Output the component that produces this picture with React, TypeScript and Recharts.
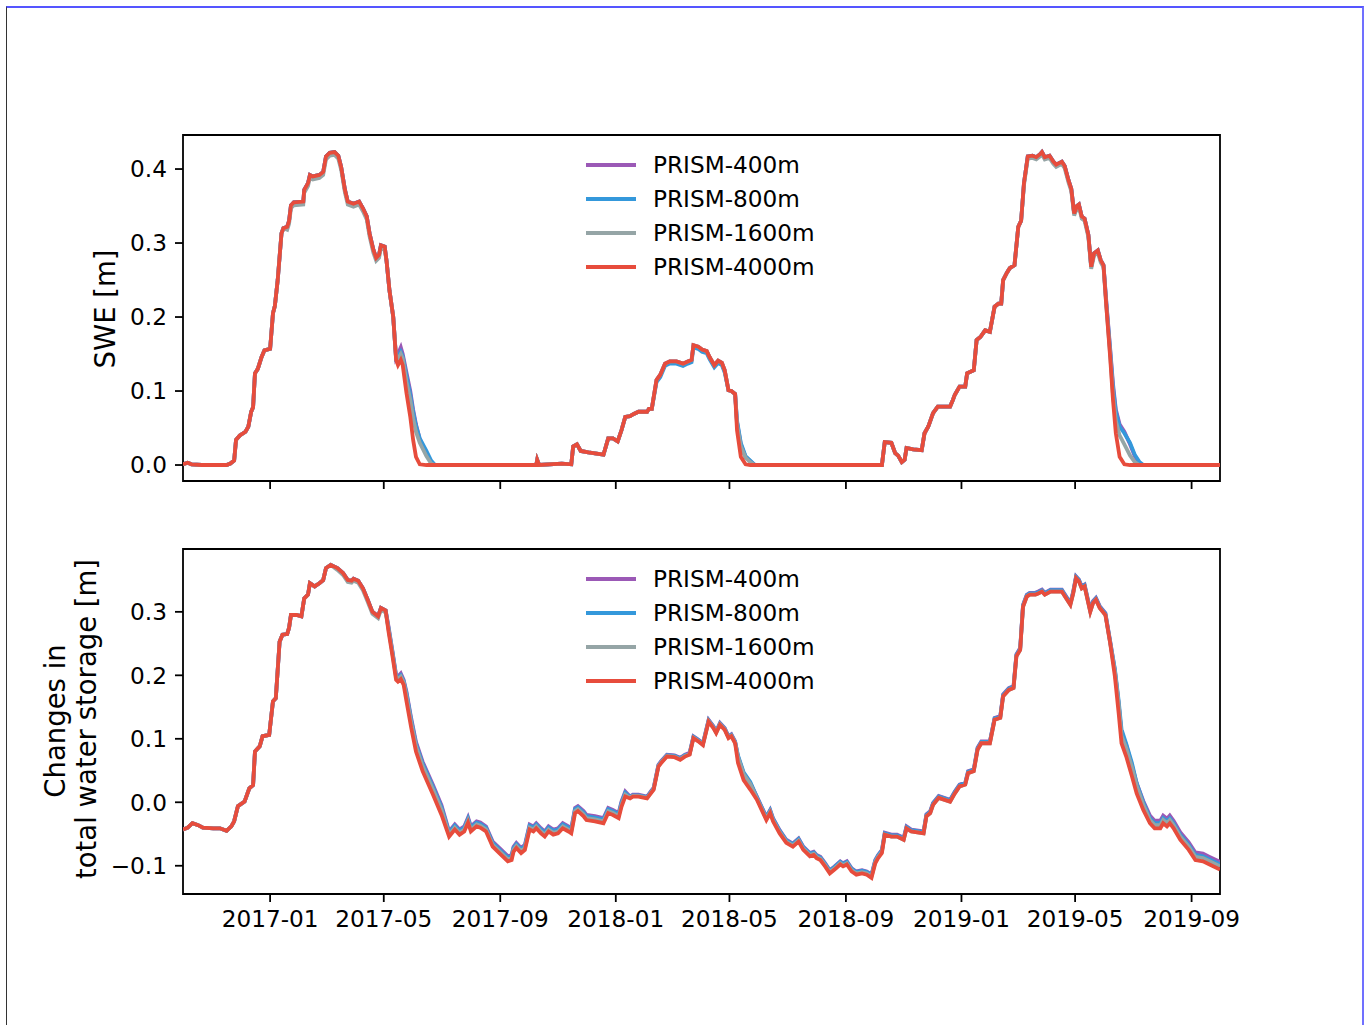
import { LineChart, Line, XAxis, YAxis, ReferenceArea, Label } from "recharts";

// x positions are days since 2016-10-01 (water years 2017-2019)
const tickDays = [92, 212, 335, 457, 577, 700, 822, 942, 1065];
const tickLabels = ["2017-01", "2017-05", "2017-09", "2018-01", "2018-05", "2018-09", "2019-01", "2019-05", "2019-09"];

const seriesNames = ["PRISM-400m", "PRISM-800m", "PRISM-1600m", "PRISM-4000m"];
const seriesKeys = ["p400", "p800", "p1600", "p4000"];
const seriesColors = ["#9b59b6", "#3498db", "#95a5a6", "#e74c3c"];

const sweTicks = [0, 0.1, 0.2, 0.3, 0.4];
const storageTicks = [-0.1, 0, 0.1, 0.2, 0.3];

// SWE [m]
const sweDays = [
  0, 5, 9, 20, 46, 50, 54, 56, 60, 66,
  69, 72, 74, 76, 79, 83, 86, 92, 95, 97,
  100, 104, 106, 110, 112, 114, 117, 127, 128, 132,
  134, 137, 144, 148, 151, 155, 160, 164, 167, 171,
  174, 180, 186, 190, 194, 197, 201, 204, 207, 209,
  213, 215, 218, 222, 225, 227, 230, 232, 236, 240,
  243, 246, 250, 257, 262, 266,
  373, 374, 376, 400, 410, 412, 416, 420, 428, 444,
  449, 454, 459, 463, 467, 472, 476, 481, 490, 492,
  495, 500, 504, 509, 514, 521, 528, 533, 537, 539,
  544, 548, 553, 556, 561, 565, 569, 572, 576, 579,
  583, 585, 589, 594, 599, 604,
  738, 741, 748, 752, 755, 759, 762, 764, 771, 780,
  783, 787, 792, 797, 810, 813, 815, 820, 826, 828,
  835, 838, 842, 847, 852, 857, 861, 864, 866, 870,
  873, 878, 882, 885, 888, 890, 892, 897, 901, 905,
  907, 910, 915, 919, 922, 928, 931, 935, 938, 941,
  944, 946, 949, 952, 956, 959, 962, 966, 969, 972,
  975, 979, 982, 985, 989, 994, 1000, 1005, 1010, 1014,
  1095,
];

const swe400 = [
  0.001, 0.003, 0.001, 0, 0, 0.002, 0.006, 0.034, 0.040, 0.045,
  0.052, 0.072, 0.078, 0.124, 0.130, 0.146, 0.155, 0.157, 0.205, 0.215,
  0.250, 0.313, 0.320, 0.322, 0.330, 0.351, 0.355, 0.356, 0.372, 0.381,
  0.392, 0.390, 0.392, 0.396, 0.417, 0.422, 0.423, 0.418, 0.403, 0.372,
  0.356, 0.353, 0.356, 0.347, 0.336, 0.313, 0.291, 0.280, 0.284, 0.297,
  0.295, 0.275, 0.236, 0.200, 0.145, 0.150, 0.159, 0.150, 0.125, 0.100,
  0.075, 0.055, 0.035, 0.016, 0.004, 0,
  0, 0.007, 0, 0.002, 0.001, 0.025, 0.028, 0.019, 0.017, 0.014,
  0.036, 0.036, 0.032, 0.047, 0.065, 0.066, 0.069, 0.072, 0.072, 0.076,
  0.076, 0.115, 0.122, 0.137, 0.140, 0.140, 0.137, 0.140, 0.142, 0.162,
  0.160, 0.156, 0.154, 0.146, 0.135, 0.141, 0.138, 0.128, 0.101, 0.100,
  0.096, 0.058, 0.028, 0.011, 0.005, 0,
  0, 0.031, 0.030, 0.016, 0.013, 0.004, 0.007, 0.023, 0.021, 0.020,
  0.043, 0.052, 0.070, 0.079, 0.079, 0.088, 0.095, 0.106, 0.106, 0.124,
  0.128, 0.169, 0.173, 0.182, 0.180, 0.214, 0.218, 0.218, 0.250, 0.260,
  0.266, 0.270, 0.322, 0.330, 0.381, 0.399, 0.417, 0.418, 0.416, 0.420,
  0.423, 0.416, 0.418, 0.410, 0.406, 0.410, 0.404, 0.385, 0.373, 0.340,
  0.350, 0.352, 0.336, 0.333, 0.311, 0.268, 0.286, 0.290, 0.277, 0.270,
  0.220, 0.158, 0.110, 0.075, 0.055, 0.045, 0.028, 0.012, 0.002, 0,
  0,
];

const swe800 = [
  0.001, 0.003, 0.001, 0, 0, 0.002, 0.006, 0.034, 0.040, 0.045,
  0.052, 0.072, 0.078, 0.124, 0.130, 0.146, 0.155, 0.157, 0.205, 0.215,
  0.250, 0.313, 0.320, 0.322, 0.330, 0.351, 0.355, 0.356, 0.372, 0.381,
  0.392, 0.390, 0.392, 0.396, 0.417, 0.422, 0.423, 0.418, 0.403, 0.372,
  0.356, 0.353, 0.356, 0.347, 0.336, 0.313, 0.291, 0.280, 0.284, 0.297,
  0.295, 0.275, 0.236, 0.200, 0.144, 0.146, 0.153, 0.147, 0.120, 0.095,
  0.072, 0.053, 0.036, 0.019, 0.006, 0,
  0, 0.007, 0, 0.002, 0.001, 0.025, 0.028, 0.019, 0.017, 0.014,
  0.036, 0.036, 0.032, 0.047, 0.065, 0.066, 0.069, 0.072, 0.072, 0.076,
  0.076, 0.112, 0.119, 0.134, 0.137, 0.137, 0.134, 0.137, 0.139, 0.159,
  0.157, 0.153, 0.151, 0.143, 0.132, 0.138, 0.135, 0.125, 0.101, 0.100,
  0.096, 0.060, 0.030, 0.012, 0.006, 0,
  0, 0.031, 0.030, 0.016, 0.013, 0.004, 0.007, 0.023, 0.021, 0.020,
  0.043, 0.052, 0.070, 0.079, 0.079, 0.088, 0.095, 0.106, 0.106, 0.124,
  0.128, 0.169, 0.173, 0.182, 0.180, 0.214, 0.218, 0.218, 0.250, 0.260,
  0.266, 0.270, 0.322, 0.330, 0.381, 0.399, 0.417, 0.418, 0.416, 0.420,
  0.423, 0.416, 0.418, 0.410, 0.406, 0.410, 0.404, 0.385, 0.373, 0.340,
  0.350, 0.352, 0.336, 0.333, 0.311, 0.268, 0.286, 0.290, 0.277, 0.270,
  0.218, 0.155, 0.105, 0.072, 0.052, 0.043, 0.030, 0.014, 0.004, 0,
  0,
];

const swe1600 = [
  0.001, 0.003, 0.001, 0, 0, 0.002, 0.006, 0.034, 0.040, 0.045,
  0.052, 0.072, 0.078, 0.124, 0.130, 0.146, 0.155, 0.157, 0.205, 0.215,
  0.250, 0.313, 0.320, 0.318, 0.326, 0.347, 0.351, 0.352, 0.368, 0.377,
  0.388, 0.386, 0.388, 0.392, 0.413, 0.418, 0.419, 0.414, 0.399, 0.368,
  0.352, 0.349, 0.352, 0.343, 0.332, 0.309, 0.287, 0.276, 0.280, 0.293,
  0.291, 0.275, 0.236, 0.200, 0.143, 0.143, 0.150, 0.144, 0.112, 0.088,
  0.063, 0.045, 0.030, 0.012, 0.002, 0,
  0, 0.007, 0, 0.002, 0.001, 0.025, 0.028, 0.019, 0.017, 0.014,
  0.036, 0.036, 0.032, 0.047, 0.065, 0.066, 0.069, 0.072, 0.072, 0.076,
  0.076, 0.115, 0.122, 0.137, 0.140, 0.140, 0.137, 0.140, 0.142, 0.162,
  0.160, 0.156, 0.154, 0.146, 0.135, 0.141, 0.138, 0.128, 0.101, 0.100,
  0.096, 0.055, 0.025, 0.010, 0.004, 0,
  0, 0.031, 0.030, 0.016, 0.013, 0.004, 0.007, 0.023, 0.021, 0.020,
  0.043, 0.052, 0.070, 0.079, 0.079, 0.088, 0.095, 0.106, 0.106, 0.124,
  0.128, 0.169, 0.173, 0.182, 0.180, 0.214, 0.218, 0.218, 0.250, 0.260,
  0.266, 0.270, 0.322, 0.330, 0.378, 0.396, 0.414, 0.415, 0.413, 0.417,
  0.420, 0.413, 0.415, 0.407, 0.403, 0.407, 0.401, 0.382, 0.370, 0.337,
  0.347, 0.349, 0.333, 0.330, 0.308, 0.265, 0.283, 0.287, 0.274, 0.267,
  0.214, 0.150, 0.095, 0.060, 0.040, 0.028, 0.013, 0.004, 0, 0,
  0,
];

const swe4000 = [
  0.001, 0.003, 0.001, 0, 0, 0.002, 0.006, 0.034, 0.040, 0.045,
  0.052, 0.072, 0.078, 0.124, 0.130, 0.146, 0.155, 0.157, 0.205, 0.215,
  0.250, 0.313, 0.320, 0.322, 0.330, 0.351, 0.355, 0.356, 0.372, 0.381,
  0.392, 0.390, 0.392, 0.396, 0.417, 0.422, 0.423, 0.418, 0.403, 0.372,
  0.356, 0.353, 0.356, 0.347, 0.336, 0.313, 0.291, 0.280, 0.284, 0.297,
  0.295, 0.275, 0.236, 0.200, 0.142, 0.135, 0.142, 0.135, 0.097, 0.065,
  0.034, 0.011, 0.001, 0, 0, 0,
  0, 0.007, 0, 0.002, 0.001, 0.025, 0.028, 0.019, 0.017, 0.014,
  0.036, 0.036, 0.032, 0.047, 0.065, 0.066, 0.069, 0.072, 0.072, 0.076,
  0.076, 0.115, 0.122, 0.137, 0.140, 0.140, 0.137, 0.140, 0.142, 0.162,
  0.160, 0.156, 0.154, 0.146, 0.135, 0.141, 0.138, 0.128, 0.101, 0.100,
  0.096, 0.047, 0.011, 0.001, 0, 0,
  0, 0.031, 0.030, 0.016, 0.013, 0.004, 0.007, 0.023, 0.021, 0.020,
  0.043, 0.052, 0.070, 0.079, 0.079, 0.088, 0.095, 0.106, 0.106, 0.124,
  0.128, 0.169, 0.173, 0.182, 0.180, 0.214, 0.218, 0.218, 0.250, 0.260,
  0.266, 0.270, 0.322, 0.330, 0.381, 0.399, 0.417, 0.418, 0.416, 0.420,
  0.423, 0.416, 0.418, 0.410, 0.406, 0.410, 0.404, 0.385, 0.373, 0.340,
  0.350, 0.352, 0.336, 0.333, 0.311, 0.268, 0.286, 0.290, 0.277, 0.270,
  0.214, 0.146, 0.088, 0.043, 0.011, 0.001, 0, 0, 0, 0,
  0,
];

// changes in total water storage [m]
const storDays = [
  0, 5, 10, 16, 21, 32, 39, 46, 51, 54,
  58, 65, 70, 74, 76, 81, 84, 91, 95, 98,
  102, 105, 110, 112, 114, 120, 125, 128, 132, 134,
  139, 144, 148, 151, 156, 163, 169, 174, 178, 180,
  185, 190, 195, 200, 206, 209, 214, 217, 221, 225,
  227, 230, 233, 236, 241, 246, 253, 264, 273, 281,
  287, 292, 297, 301, 304, 310, 314, 320, 327, 334,
  343, 347, 349, 352, 357, 361, 366, 370, 373, 378,
  382, 386, 391, 396, 401, 407, 410, 414, 417, 423,
  426, 435, 444, 449, 454, 460, 463, 467, 472, 475,
  481, 490, 493, 497, 502, 505, 511, 519, 525, 530,
  535, 539, 544, 549, 555, 560, 563, 567, 572, 576,
  579, 583, 586, 592, 599, 606, 611, 616, 620, 623,
  630, 637, 644, 650, 655, 662, 666, 669, 673, 678,
  683, 688, 694, 697, 701, 706, 711, 717, 722, 727,
  731, 734, 738, 741, 748, 754, 761, 764, 769, 782,
  785, 789, 792, 798, 810, 815, 820, 826, 829, 835,
  839, 843, 852, 857, 863, 866, 872, 877, 880, 884,
  887, 891, 894, 900, 903, 907, 910, 916, 923, 928,
  931, 937, 940, 943, 946, 949, 952, 958, 961, 964,
  968, 974, 979, 984, 988, 991, 996, 1002, 1007, 1014,
  1021, 1026, 1032, 1035, 1039, 1042, 1046, 1053, 1062, 1069,
  1077, 1084, 1095,
];

const stor400 = [
  -0.043, -0.040, -0.033, -0.036, -0.040, -0.041, -0.041, -0.045, -0.038, -0.030,
  -0.006, 0.001, 0.022, 0.027, 0.080, 0.088, 0.104, 0.106, 0.159, 0.164,
  0.253, 0.264, 0.265, 0.275, 0.295, 0.295, 0.293, 0.321, 0.327, 0.345,
  0.340, 0.345, 0.350, 0.369, 0.374, 0.369, 0.361, 0.350, 0.349, 0.352,
  0.349, 0.337, 0.319, 0.300, 0.293, 0.306, 0.302, 0.277, 0.240, 0.201,
  0.198, 0.203, 0.193, 0.174, 0.132, 0.095, 0.064, 0.027, -0.005, -0.046,
  -0.035, -0.043, -0.038, -0.024, -0.038, -0.030, -0.032, -0.038, -0.062, -0.072,
  -0.085, -0.083, -0.070, -0.064, -0.072, -0.067, -0.035, -0.038, -0.033, -0.041,
  -0.046, -0.038, -0.043, -0.041, -0.033, -0.038, -0.041, -0.009, -0.006, -0.014,
  -0.020, -0.022, -0.025, -0.009, -0.012, -0.017, 0.001, 0.017, 0.009, 0.012,
  0.012, 0.009, 0.015, 0.023, 0.059, 0.065, 0.075, 0.074, 0.070, 0.075,
  0.078, 0.104, 0.099, 0.093, 0.130, 0.120, 0.112, 0.125, 0.117, 0.104,
  0.107, 0.096, 0.072, 0.045, 0.030, 0.009, -0.007, -0.023, -0.012, -0.025,
  -0.044, -0.059, -0.065, -0.057, -0.070, -0.080, -0.078, -0.083, -0.086, -0.096,
  -0.107, -0.101, -0.093, -0.096, -0.093, -0.104, -0.109, -0.107, -0.109, -0.114,
  -0.091, -0.083, -0.075, -0.048, -0.051, -0.051, -0.056, -0.038, -0.043, -0.046,
  -0.019, -0.014, -0.001, 0.010, 0.004, 0.017, 0.028, 0.031, 0.049, 0.052,
  0.086, 0.096, 0.096, 0.133, 0.136, 0.170, 0.180, 0.183, 0.233, 0.243,
  0.311, 0.327, 0.330, 0.330, 0.332, 0.335, 0.330, 0.335, 0.335, 0.335,
  0.328, 0.314, 0.332, 0.356, 0.351, 0.340, 0.343, 0.303, 0.317, 0.322,
  0.309, 0.298, 0.254, 0.208, 0.155, 0.108, 0.090, 0.058, 0.030, 0.002,
  -0.021, -0.029, -0.029, -0.021, -0.026, -0.021, -0.029, -0.047, -0.063, -0.079,
  -0.081, -0.086, -0.094,
];

const stor800 = [
  -0.043, -0.040, -0.033, -0.036, -0.040, -0.041, -0.041, -0.045, -0.038, -0.030,
  -0.006, 0.001, 0.022, 0.027, 0.080, 0.088, 0.104, 0.106, 0.159, 0.164,
  0.253, 0.264, 0.265, 0.275, 0.295, 0.295, 0.293, 0.321, 0.327, 0.345,
  0.340, 0.345, 0.350, 0.369, 0.374, 0.369, 0.361, 0.350, 0.349, 0.352,
  0.349, 0.337, 0.319, 0.300, 0.293, 0.306, 0.302, 0.275, 0.238, 0.199,
  0.196, 0.200, 0.191, 0.171, 0.129, 0.092, 0.061, 0.024, -0.008, -0.048,
  -0.037, -0.045, -0.040, -0.026, -0.040, -0.032, -0.034, -0.040, -0.064, -0.074,
  -0.087, -0.085, -0.072, -0.066, -0.074, -0.069, -0.037, -0.040, -0.035, -0.043,
  -0.048, -0.040, -0.045, -0.043, -0.035, -0.040, -0.043, -0.011, -0.008, -0.016,
  -0.022, -0.024, -0.027, -0.011, -0.014, -0.019, -0.001, 0.015, 0.008, 0.011,
  0.011, 0.008, 0.014, 0.022, 0.058, 0.064, 0.074, 0.073, 0.069, 0.074,
  0.077, 0.103, 0.098, 0.092, 0.129, 0.119, 0.111, 0.124, 0.116, 0.103,
  0.106, 0.095, 0.074, 0.047, 0.032, 0.008, -0.008, -0.024, -0.013, -0.026,
  -0.045, -0.060, -0.066, -0.058, -0.071, -0.081, -0.079, -0.084, -0.087, -0.097,
  -0.108, -0.102, -0.094, -0.097, -0.094, -0.105, -0.110, -0.108, -0.110, -0.115,
  -0.092, -0.084, -0.076, -0.049, -0.052, -0.052, -0.057, -0.039, -0.044, -0.047,
  -0.020, -0.015, -0.002, 0.009, 0.003, 0.016, 0.027, 0.030, 0.048, 0.051,
  0.085, 0.095, 0.095, 0.132, 0.135, 0.169, 0.179, 0.182, 0.232, 0.242,
  0.310, 0.326, 0.329, 0.329, 0.331, 0.334, 0.329, 0.334, 0.334, 0.334,
  0.327, 0.313, 0.331, 0.355, 0.350, 0.339, 0.342, 0.302, 0.316, 0.321,
  0.308, 0.297, 0.253, 0.210, 0.160, 0.115, 0.092, 0.062, 0.030, 0.000,
  -0.025, -0.033, -0.033, -0.025, -0.030, -0.025, -0.033, -0.051, -0.067, -0.083,
  -0.085, -0.090, -0.098,
];

const stor1600 = [
  -0.043, -0.040, -0.033, -0.036, -0.040, -0.041, -0.041, -0.045, -0.038, -0.030,
  -0.006, 0.001, 0.022, 0.027, 0.080, 0.088, 0.104, 0.106, 0.159, 0.164,
  0.253, 0.264, 0.265, 0.275, 0.295, 0.295, 0.293, 0.321, 0.327, 0.345,
  0.340, 0.345, 0.350, 0.369, 0.374, 0.366, 0.358, 0.347, 0.346, 0.349,
  0.346, 0.334, 0.316, 0.297, 0.290, 0.303, 0.299, 0.273, 0.236, 0.197,
  0.194, 0.198, 0.189, 0.167, 0.125, 0.088, 0.057, 0.020, -0.012, -0.051,
  -0.040, -0.048, -0.043, -0.029, -0.043, -0.035, -0.037, -0.043, -0.067, -0.077,
  -0.090, -0.088, -0.075, -0.069, -0.077, -0.072, -0.040, -0.043, -0.038, -0.046,
  -0.051, -0.043, -0.048, -0.046, -0.038, -0.043, -0.046, -0.014, -0.011, -0.019,
  -0.025, -0.027, -0.030, -0.014, -0.017, -0.022, -0.004, 0.012, 0.007, 0.010,
  0.010, 0.007, 0.013, 0.021, 0.057, 0.063, 0.073, 0.072, 0.068, 0.073,
  0.076, 0.102, 0.097, 0.091, 0.128, 0.118, 0.110, 0.123, 0.115, 0.102,
  0.105, 0.094, 0.071, 0.044, 0.029, 0.006, -0.010, -0.026, -0.015, -0.028,
  -0.047, -0.062, -0.068, -0.060, -0.073, -0.083, -0.081, -0.086, -0.089, -0.099,
  -0.110, -0.104, -0.096, -0.099, -0.096, -0.107, -0.112, -0.110, -0.112, -0.117,
  -0.094, -0.086, -0.078, -0.051, -0.054, -0.054, -0.059, -0.041, -0.046, -0.049,
  -0.022, -0.017, -0.004, 0.007, 0.001, 0.014, 0.025, 0.028, 0.046, 0.049,
  0.083, 0.093, 0.093, 0.130, 0.133, 0.167, 0.177, 0.180, 0.230, 0.240,
  0.308, 0.324, 0.327, 0.327, 0.329, 0.332, 0.327, 0.332, 0.332, 0.332,
  0.325, 0.311, 0.329, 0.353, 0.348, 0.337, 0.340, 0.300, 0.314, 0.319,
  0.306, 0.295, 0.251, 0.206, 0.155, 0.105, 0.085, 0.055, 0.026, -0.004,
  -0.028, -0.036, -0.036, -0.028, -0.033, -0.028, -0.036, -0.054, -0.070, -0.086,
  -0.088, -0.093, -0.101,
];

const stor4000 = [
  -0.043, -0.040, -0.033, -0.036, -0.040, -0.041, -0.041, -0.045, -0.038, -0.030,
  -0.006, 0.001, 0.022, 0.027, 0.080, 0.088, 0.104, 0.106, 0.159, 0.164,
  0.253, 0.264, 0.265, 0.275, 0.295, 0.295, 0.293, 0.321, 0.327, 0.345,
  0.340, 0.345, 0.350, 0.369, 0.374, 0.369, 0.361, 0.350, 0.349, 0.352,
  0.349, 0.337, 0.319, 0.300, 0.293, 0.306, 0.302, 0.269, 0.232, 0.193,
  0.190, 0.194, 0.185, 0.159, 0.117, 0.080, 0.049, 0.012, -0.020, -0.054,
  -0.043, -0.051, -0.046, -0.032, -0.046, -0.038, -0.040, -0.046, -0.070, -0.080,
  -0.093, -0.091, -0.078, -0.072, -0.080, -0.075, -0.043, -0.046, -0.041, -0.049,
  -0.054, -0.046, -0.051, -0.049, -0.041, -0.046, -0.049, -0.017, -0.014, -0.022,
  -0.028, -0.030, -0.033, -0.017, -0.020, -0.025, -0.007, 0.009, 0.006, 0.009,
  0.009, 0.006, 0.012, 0.020, 0.056, 0.062, 0.072, 0.071, 0.067, 0.072,
  0.075, 0.101, 0.096, 0.090, 0.127, 0.117, 0.109, 0.122, 0.114, 0.101,
  0.104, 0.093, 0.062, 0.035, 0.020, 0.004, -0.012, -0.028, -0.017, -0.030,
  -0.049, -0.064, -0.070, -0.062, -0.075, -0.085, -0.083, -0.088, -0.091, -0.101,
  -0.112, -0.106, -0.098, -0.101, -0.098, -0.109, -0.114, -0.112, -0.114, -0.119,
  -0.096, -0.088, -0.080, -0.051, -0.054, -0.054, -0.059, -0.041, -0.046, -0.049,
  -0.022, -0.017, -0.004, 0.007, 0.001, 0.014, 0.025, 0.028, 0.046, 0.049,
  0.083, 0.093, 0.093, 0.130, 0.133, 0.167, 0.177, 0.180, 0.230, 0.240,
  0.308, 0.324, 0.327, 0.327, 0.329, 0.332, 0.327, 0.332, 0.332, 0.332,
  0.325, 0.311, 0.329, 0.353, 0.348, 0.337, 0.340, 0.300, 0.314, 0.319,
  0.306, 0.295, 0.251, 0.198, 0.140, 0.093, 0.072, 0.041, 0.014, -0.012,
  -0.033, -0.041, -0.041, -0.033, -0.038, -0.033, -0.041, -0.059, -0.075, -0.091,
  -0.093, -0.098, -0.106,
];

const FONT = "DejaVu Sans";
const FS = 23.2;
const LABEL_FS = 27.5;

const buildRows = (days: number[], cols: number[][]) =>
  days.map((day, i) => ({ day, p400: cols[0][i], p800: cols[1][i], p1600: cols[2][i], p4000: cols[3][i] }));

const sweRows = buildRows(sweDays, [swe400, swe800, swe1600, swe4000]);
const storRows = buildRows(storDays, [stor400, stor800, stor1600, stor4000]);

const fmtY = (v: number) => (v < -1e-9 ? "\u2212" : "") + Math.abs(v).toFixed(1);
const fmtX = (v: number) => {
  const i = tickDays.indexOf(v);
  return i >= 0 ? tickLabels[i] : "";
};

const LegendBox = ({ top }: { top: number }) => (
  <div style={{ position: "absolute", left: 586, top, fontFamily: FONT, fontSize: FS, color: "#000" }}>
    {seriesNames.map((name, i) => (
      <div key={name} style={{ display: "flex", alignItems: "center", height: 34 }}>
        <svg width={50} height={6}>
          <line x1={0} x2={50} y1={3} y2={3} stroke={seriesColors[i]} strokeWidth={3.8} />
        </svg>
        <span style={{ marginLeft: 17, lineHeight: "34px" }}>{name}</span>
      </div>
    ))}
  </div>
);

type PanelProps = {
  rows: any[];
  top: number;
  height: number;
  marginTop: number;
  marginBottom: number;
  xAxisHeight: number;
  domain: [number, number];
  yTicks: number[];
  showXLabels: boolean;
  yLabel: (p: any) => any;
};

const Panel = ({ rows, top, height, marginTop, marginBottom, xAxisHeight, domain, yTicks, showXLabels, yLabel }: PanelProps) => (
  <div style={{ position: "absolute", left: 0, top }}>
    <LineChart width={1370} height={height} data={rows} margin={{ top: marginTop, right: 150, bottom: marginBottom, left: 123 }}>
      <XAxis
        type="number"
        dataKey="day"
        domain={[0, 1095]}
        allowDataOverflow
        ticks={tickDays}
        interval={0}
        tickFormatter={showXLabels ? fmtX : () => ""}
        height={xAxisHeight}
        axisLine={false}
        tickSize={8}
        tickMargin={9}
        tickLine={{ stroke: "#000", strokeWidth: 1.8 }}
        tick={{ fill: "#000", fontSize: FS, fontFamily: FONT }}
      />
      <YAxis
        type="number"
        domain={domain}
        allowDataOverflow
        ticks={yTicks}
        interval={0}
        tickFormatter={fmtY}
        width={60}
        axisLine={false}
        tickSize={8}
        tickMargin={8}
        tickLine={{ stroke: "#000", strokeWidth: 1.8 }}
        tick={{ fill: "#000", fontSize: FS, fontFamily: FONT }}
      >
        <Label value=" " content={yLabel} />
      </YAxis>
      {seriesKeys.map((k, i) => (
        <Line
          key={k}
          type="linear"
          dataKey={k}
          name={seriesNames[i]}
          stroke={seriesColors[i]}
          strokeWidth={3.8}
          dot={false}
          isAnimationActive={false}
        />
      ))}
      <ReferenceArea
        x1={0}
        x2={1095}
        y1={domain[0]}
        y2={domain[1]}
        fill="none"
        fillOpacity={0}
        stroke="#000"
        strokeWidth={1.8}
        ifOverflow="visible"
      />
    </LineChart>
  </div>
);

const sweLabel = () => (
  <text
    x={105}
    y={309}
    transform="rotate(-90 105 309)"
    textAnchor="middle"
    dominantBaseline="central"
    fontFamily={FONT}
    fontSize={LABEL_FS}
    fill="#000"
  >
    SWE [m]
  </text>
);

const storLabel = () => (
  <g fontFamily={FONT} fontSize={LABEL_FS} fill="#000">
    <text x={55} y={201} transform="rotate(-90 55 201)" textAnchor="middle" dominantBaseline="central">
      Changes in
    </text>
    <text x={86} y={199} transform="rotate(-90 86 199)" textAnchor="middle" dominantBaseline="central">
      total water storage [m]
    </text>
  </g>
);

export default function App() {
  return (
    <div style={{ position: "relative", width: 1370, height: 1025, background: "#fff", overflow: "hidden" }}>
      <style>{`body{margin:0;}`}</style>
      <div
        style={{
          position: "absolute",
          left: 6,
          top: 6,
          width: 1355,
          height: 1040,
          borderTop: "2px solid #5555ff",
          borderRight: "2px solid #7070ff",
          borderLeft: "1px solid #333",
        }}
      />
      <Panel
        rows={sweRows}
        top={0}
        height={520}
        marginTop={135}
        marginBottom={9}
        xAxisHeight={30}
        domain={[-0.0216, 0.446]}
        yTicks={sweTicks}
        showXLabels={false}
        yLabel={sweLabel}
      />
      <Panel
        rows={storRows}
        top={520}
        height={460}
        marginTop={29}
        marginBottom={26}
        xAxisHeight={60}
        domain={[-0.1445, 0.399]}
        yTicks={storageTicks}
        showXLabels={true}
        yLabel={storLabel}
      />
      <LegendBox top={148} />
      <LegendBox top={562} />
    </div>
  );
}
